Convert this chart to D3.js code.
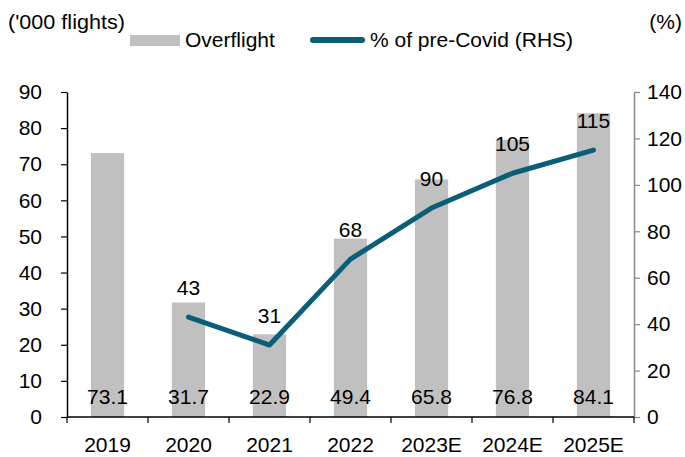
<!DOCTYPE html>
<html>
<head>
<meta charset="utf-8">
<script src="https://cdn.jsdelivr.net/npm/d3@7"></script>
<style>
  body { margin: 0; background: #fff; overflow: hidden; }
  svg { font-family: "Liberation Sans", Arial, sans-serif; }
</style>
</head>
<body>
<script>
var years = ["2019", "2020", "2021", "2022", "2023E", "2024E", "2025E"];
var overflight = [73.1, 31.7, 22.9, 49.4, 65.8, 76.8, 84.1];
var pctPreCovid = [null, 43, 31, 68, 90, 105, 115];
var leftTicks = [0, 10, 20, 30, 40, 50, 60, 70, 80, 90];
var rightTicks = [0, 20, 40, 60, 80, 100, 120, 140];

var width = 685, height = 457;
var plotLeft = 67, plotRight = 634, plotTop = 92, plotBottom = 417;
var barColor = "#c0c0c0", lineColor = "#0b5e77";
var fontSize = 21;

var svg = d3.select("body").append("svg")
    .attr("width", width)
    .attr("height", height);

var x = d3.scaleBand().domain(years).range([plotLeft, plotRight]).paddingInner(0).paddingOuter(0);
var yL = d3.scaleLinear().domain([0, 90]).range([plotBottom, plotTop]);
var yR = d3.scaleLinear().domain([0, 140]).range([plotBottom, plotTop]);
var barW = x.bandwidth() * 0.41;

// bars
svg.selectAll("rect.bar")
    .data(years)
    .join("rect")
    .attr("class", "bar")
    .attr("x", d => x(d) + (x.bandwidth() - barW) / 2)
    .attr("y", (d, i) => yL(overflight[i]))
    .attr("width", barW)
    .attr("height", (d, i) => yL(0) - yL(overflight[i]))
    .attr("fill", barColor);

// left axis
var gL = svg.append("g")
    .attr("transform", `translate(${plotLeft},0)`)
    .call(d3.axisLeft(yL).tickValues(leftTicks).tickSize(6).tickSizeOuter(0).tickPadding(19));
gL.select(".domain").attr("stroke", "#000").attr("stroke-width", 1.5);
gL.selectAll(".tick line").attr("stroke", "#000").attr("stroke-width", 1.2);
gL.selectAll("text").attr("font-size", fontSize).attr("fill", "#000").attr("font-family", null);

// right axis
var gR = svg.append("g")
    .attr("transform", `translate(${plotRight},0)`)
    .call(d3.axisRight(yR).tickValues(rightTicks).tickSize(6).tickSizeOuter(0).tickPadding(7));
gR.select(".domain").attr("stroke", "#888").attr("stroke-width", 1.5);
gR.selectAll(".tick line").attr("stroke", "#888").attr("stroke-width", 1.2);
gR.selectAll("text").attr("font-size", fontSize).attr("fill", "#000").attr("font-family", null);

// bottom axis: ticks at category boundaries
var gB = svg.append("g").attr("transform", `translate(0,${plotBottom})`);
gB.append("line")
    .attr("x1", plotLeft).attr("x2", plotRight)
    .attr("stroke", "#000").attr("stroke-width", 1.5);
var bounds = years.map(d => x(d)).concat([plotRight]);
gB.selectAll("line.tk")
    .data(bounds)
    .join("line")
    .attr("class", "tk")
    .attr("x1", d => d).attr("x2", d => d)
    .attr("y1", 0).attr("y2", 6)
    .attr("stroke", "#000").attr("stroke-width", 1.2);
gB.selectAll("text")
    .data(years)
    .join("text")
    .attr("x", d => x(d) + x.bandwidth() / 2)
    .attr("y", 35)
    .attr("text-anchor", "middle")
    .attr("font-size", fontSize)
    .text(d => d);

// bar value labels
svg.selectAll("text.barval")
    .data(years)
    .join("text")
    .attr("class", "barval")
    .attr("x", d => x(d) + x.bandwidth() / 2)
    .attr("y", 404)
    .attr("text-anchor", "middle")
    .attr("font-size", fontSize)
    .text((d, i) => overflight[i].toFixed(1));

// line
var pts = years.map((d, i) => ({ year: d, v: pctPreCovid[i] })).filter(d => d.v != null);
var line = d3.line()
    .x(d => x(d.year) + x.bandwidth() / 2)
    .y(d => yR(d.v));
svg.append("path")
    .datum(pts)
    .attr("d", line)
    .attr("fill", "none")
    .attr("stroke", lineColor)
    .attr("stroke-width", 5)
    .attr("stroke-linejoin", "round")
    .attr("stroke-linecap", "round");

svg.selectAll("text.lineval")
    .data(pts)
    .join("text")
    .attr("class", "lineval")
    .attr("x", d => x(d.year) + x.bandwidth() / 2)
    .attr("y", d => yR(d.v) - 22)
    .attr("text-anchor", "middle")
    .attr("font-size", fontSize)
    .text(d => d.v);

// axis titles
svg.append("text").attr("x", 8).attr("y", 29).attr("font-size", fontSize)
    .attr("textLength", 117).attr("lengthAdjust", "spacingAndGlyphs")
    .text("('000 flights)");
svg.append("text").attr("x", 682).attr("y", 29).attr("font-size", fontSize)
    .attr("text-anchor", "end").text("(%)");

// legend
var lg = svg.append("g");
lg.append("rect").attr("x", 130).attr("y", 35).attr("width", 50).attr("height", 11).attr("fill", barColor);
lg.append("text").attr("x", 185).attr("y", 47).attr("font-size", fontSize).text("Overflight");
lg.append("line").attr("x1", 313).attr("x2", 362).attr("y1", 40).attr("y2", 40)
    .attr("stroke", lineColor).attr("stroke-width", 6).attr("stroke-linecap", "round");
lg.append("text").attr("x", 370).attr("y", 47).attr("font-size", fontSize).text("% of pre-Covid (RHS)");
</script>
</body>
</html>
